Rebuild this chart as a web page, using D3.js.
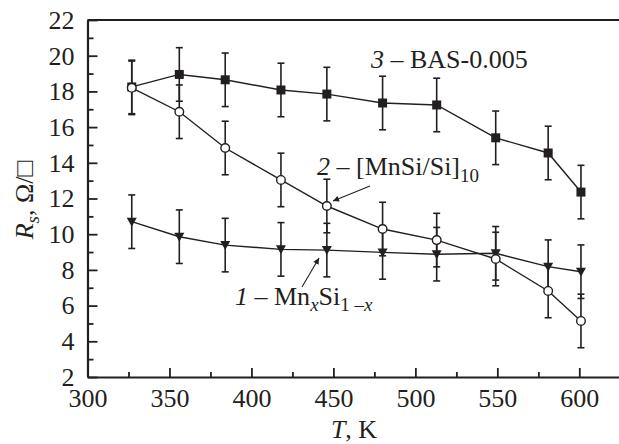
<!DOCTYPE html>
<html>
<head>
<meta charset="utf-8">
<script src="https://cdn.jsdelivr.net/npm/d3@7"></script>
<style>
  body { margin: 0; background: #fff; }
  svg { display: block; font-family: "Liberation Serif", "Times New Roman", serif; }
  .axis path, .axis line { stroke: #231f20; }
  .axis text { font-size: 26px; fill: #231f20; font-family: "Liberation Serif", serif; }
  .label { font-size: 26px; fill: #231f20; }
</style>
</head>
<body>
<svg id="chart" width="619" height="444"></svg>
<script>
// temperature, K
const temps = [327, 356, 384, 418, 446, 480, 513, 549, 581, 601];
// 3 - BAS-0.005
const basVals = [18.25, 18.95, 18.65, 18.08, 17.85, 17.35, 17.24, 15.4, 14.55, 12.36];
// 2 - [MnSi/Si]10
const multiVals = [18.2, 16.86, 14.83, 13.04, 11.58, 10.29, 9.67, 8.61, 6.82, 5.14];
// 1 - MnxSi1-x
const mnxVals = [10.7, 9.86, 9.39, 9.15, 9.11, 8.98, 8.88, 8.93, 8.18, 7.9];
// error bar half-heights
const basErr = [1.5, 1.5, 1.5, 1.5, 1.5, 1.5, 1.5, 1.5, 1.5, 1.5];
const multiErr = [1.5, 1.5, 1.5, 1.5, 1.5, 1.5, 1.5, 1.5, 1.5, 1.5];
const mnxErr = [1.5, 1.5, 1.5, 1.5, 1.5, 1.5, 1.5, 1.5, 1.5, 1.5];

const xTicks = [300, 350, 400, 450, 500, 550, 600];
const yTicks = [2, 4, 6, 8, 10, 12, 14, 16, 18, 20, 22];

const ink = "#231f20";
const svg = d3.select("#chart");

const x = d3.scaleLinear().domain([300, 625]).range([87.5, 620.3]);
const y = d3.scaleLinear().domain([2, 22]).range([377, 20]);

// minor ticks
svg.append("g")
    .attr("class", "axis")
    .attr("transform", `translate(0, ${y(2)})`)
    .call(d3.axisBottom(x).tickValues(d3.range(325, 625, 50)).tickSize(-5).tickFormat(""))
    .call(g => g.select(".domain").remove());

svg.append("g")
    .attr("class", "axis")
    .attr("transform", `translate(${x(300)}, 0)`)
    .call(d3.axisLeft(y).tickValues(d3.range(3, 22, 2)).tickSize(-6).tickFormat(""))
    .call(g => g.select(".domain").remove());

// major axes
const xAxis = svg.append("g")
    .attr("class", "axis")
    .attr("transform", `translate(0, ${y(2)})`)
    .call(d3.axisBottom(x).tickValues(xTicks).tickSize(-9).tickSizeOuter(0).tickPadding(12));

const yAxis = svg.append("g")
    .attr("class", "axis")
    .attr("transform", `translate(${x(300)}, 0)`)
    .call(d3.axisLeft(y).tickValues(yTicks).tickSize(-10).tickSizeOuter(0).tickPadding(13));

svg.selectAll(".axis line").attr("stroke-width", 1.8);
svg.selectAll(".axis .domain").attr("stroke-width", 2.2);

// top frame line
svg.append("line")
    .attr("x1", x(300)).attr("x2", x(625))
    .attr("y1", y(22)).attr("y2", y(22))
    .attr("stroke", ink)
    .attr("stroke-width", 2.2);

const series = [
    { vals: basVals, err: basErr, shape: "square" },
    { vals: mnxVals, err: mnxErr, shape: "triangle" },
    { vals: multiVals, err: multiErr, shape: "circle" }
];

// error bars first
series.forEach(s => {
    const g = svg.append("g").attr("stroke", ink).attr("stroke-width", 1.6);
    temps.forEach((t, i) => {
        const cx = x(t);
        const top = y(s.vals[i] + s.err[i]);
        const bot = y(s.vals[i] - s.err[i]);
        g.append("line").attr("x1", cx).attr("x2", cx).attr("y1", top).attr("y2", bot);
        g.append("line").attr("x1", cx - 3.5).attr("x2", cx + 3.5).attr("y1", top).attr("y2", top);
        g.append("line").attr("x1", cx - 3.5).attr("x2", cx + 3.5).attr("y1", bot).attr("y2", bot);
    });
});

const line = d3.line().x((d, i) => x(temps[i])).y(d => y(d));

series.forEach(s => {
    svg.append("path")
        .datum(s.vals)
        .attr("fill", "none")
        .attr("stroke", ink)
        .attr("stroke-width", 1.4)
        .attr("d", line);

    const marks = svg.append("g");
    s.vals.forEach((v, i) => {
        const cx = x(temps[i]);
        const cy = y(v);
        if (s.shape === "square") {
            marks.append("rect")
                .attr("x", cx - 4.5).attr("y", cy - 4.5)
                .attr("width", 9).attr("height", 9)
                .attr("fill", ink);
        } else if (s.shape === "triangle") {
            marks.append("path")
                .attr("d", `M${cx - 5},${cy - 4} L${cx + 5},${cy - 4} L${cx},${cy + 5} Z`)
                .attr("fill", ink);
        } else {
            marks.append("circle")
                .attr("cx", cx).attr("cy", cy).attr("r", 4.3)
                .attr("fill", "#fff")
                .attr("stroke", ink)
                .attr("stroke-width", 1.4);
        }
    });
});

// arrows
svg.append("defs").append("marker")
    .attr("id", "arrow")
    .attr("viewBox", "0 0 10 10")
    .attr("refX", 10).attr("refY", 5)
    .attr("markerWidth", 9).attr("markerHeight", 6)
    .attr("markerUnits", "userSpaceOnUse")
    .attr("orient", "auto")
    .append("path")
    .attr("d", "M0,0 L10,5 L0,10 Z")
    .attr("fill", ink);

svg.append("line")
    .attr("x1", 370).attr("y1", 186)
    .attr("x2", 333).attr("y2", 201)
    .attr("stroke", ink).attr("stroke-width", 1.1)
    .attr("marker-end", "url(#arrow)");

svg.append("line")
    .attr("x1", 302).attr("y1", 287)
    .attr("x2", 319).attr("y2", 258)
    .attr("stroke", ink).attr("stroke-width", 1.1)
    .attr("marker-end", "url(#arrow)");

// series labels
const lab3 = svg.append("text").attr("class", "label").attr("x", 371).attr("y", 68);
lab3.append("tspan").attr("font-style", "italic").text("3");
lab3.append("tspan").text(" – BAS-0.005");

const lab2 = svg.append("text").attr("class", "label").attr("x", 317).attr("y", 175);
lab2.append("tspan").attr("font-style", "italic").text("2");
lab2.append("tspan").text(" – [MnSi/Si]");
lab2.append("tspan").attr("font-size", "19px").attr("dy", 7).text("10");

const lab1 = svg.append("text").attr("class", "label").attr("x", 235).attr("y", 305);
lab1.append("tspan").attr("font-style", "italic").text("1");
lab1.append("tspan").text(" – Mn");
lab1.append("tspan").attr("font-size", "19px").attr("font-style", "italic").attr("dy", 6).text("x");
lab1.append("tspan").attr("dy", -6).text("Si");
lab1.append("tspan").attr("font-size", "19px").attr("dy", 6).text("1 –");
lab1.append("tspan").attr("font-size", "19px").attr("font-style", "italic").text("x");

// axis titles
const xl = svg.append("text").attr("class", "label")
    .attr("x", 354).attr("y", 438).attr("text-anchor", "middle");
xl.append("tspan").attr("font-style", "italic").text("T");
xl.append("tspan").text(", K");

const yl = svg.append("text").attr("class", "label")
    .attr("transform", "translate(33, 200) rotate(-90)")
    .attr("text-anchor", "middle");
yl.append("tspan").attr("font-style", "italic").text("R");
yl.append("tspan").attr("font-style", "italic").attr("font-size", "19px").attr("dy", 6).text("s");
yl.append("tspan").attr("dy", -6).text(", Ω/□");
</script>
</body>
</html>
